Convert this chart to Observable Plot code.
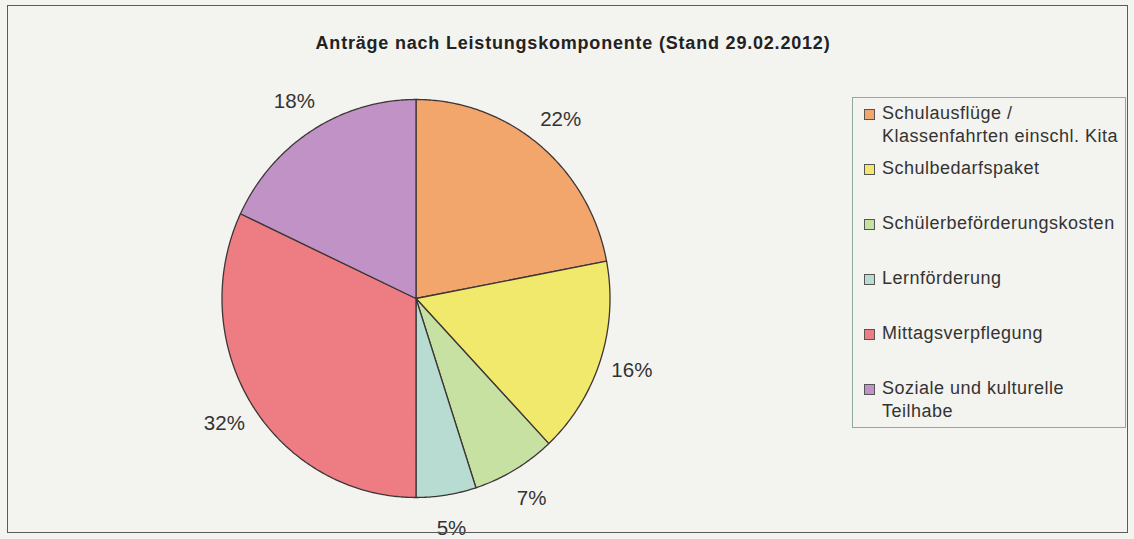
<!DOCTYPE html>
<html>
<head>
<meta charset="utf-8">
<script src="https://cdn.jsdelivr.net/npm/d3@7"></script>
<script src="https://cdn.jsdelivr.net/npm/@observablehq/plot@0.6"></script>
<style>
  body { margin: 0; background: #f3f3f0; font-family: "Liberation Sans", Arial, sans-serif; }
  #wrap { position: relative; width: 1134px; height: 539px; overflow: hidden; background: #f3f3f0; }
  #wrap svg { position: absolute; left: 0; top: 0; }
  #frame { position: absolute; left: 7px; top: 5px; width: 1121px; height: 528px; border: 1.5px solid #5a5a5a; box-sizing: border-box; }
  #title { position: absolute; left: 0; width: 1146px; top: 33px; text-align: center; font-weight: bold; font-size: 18px; letter-spacing: 0.8px; color: #222; }
  #legend { position: absolute; left: 852px; top: 97px; width: 274px; height: 331px; border: 1.5px solid #8fa9a2; box-sizing: border-box; }
  .item { position: absolute; left: 11px; font-size: 18px; line-height: 23px; color: #333; }
  .sw { position: absolute; left: 0; top: 7px; width: 9px; height: 9px; border: 1px solid #555; }
  .txt { position: absolute; left: 18px; top: 0; white-space: pre; letter-spacing: 0.5px; }
</style>
</head>
<body>
<div id="wrap">
  <div id="frame"></div>
  <div id="title"></div>
  <div id="legend"></div>
</div>
<script>
const title = "Anträge nach Leistungskomponente (Stand 29.02.2012)";
const categories = [
  "Schulausflüge / Klassenfahrten einschl. Kita",
  "Schulbedarfspaket",
  "Schülerbeförderungskosten",
  "Lernförderung",
  "Mittagsverpflegung",
  "Soziale und kulturelle Teilhabe"
];
const legendLabels = [
  "Schulausflüge /\nKlassenfahrten einschl. Kita",
  "Schulbedarfspaket",
  "Schülerbeförderungskosten",
  "Lernförderung",
  "Mittagsverpflegung",
  "Soziale und kulturelle\nTeilhabe"
];
const values = [22, 16, 7, 5, 32, 18];
const colors = ["#f2a66c", "#f1e96b", "#c7e1a3", "#b8dcd1", "#ee7d83", "#c192c6"];

document.getElementById("title").textContent = title;

// pie geometry from the data (clockwise from 12 o'clock)
const arcs = d3.pie().sort(null).value(d => d)(values);
const slices = arcs.map((p, i) => {
  const n = Math.max(4, Math.ceil((p.endAngle - p.startAngle) / 0.01));
  const pts = [{x: 0, y: 0}];
  for (let k = 0; k <= n; k++) {
    const a = p.startAngle + (p.endAngle - p.startAngle) * k / n;
    pts.push({x: Math.sin(a), y: Math.cos(a)});
  }
  pts.push({x: 0, y: 0});
  return pts;
});
const labels = arcs.map((p, i) => {
  const m = (p.startAngle + p.endAngle) / 2;
  return {x: 1.17 * Math.sin(m), y: 1.17 * Math.cos(m), label: values[i] + "%"};
});

// pixel layout: centre (415.5, 298), radii 194 x 199
const W = 1134, H = 539, cx = 415.5, cy = 298, rx = 194, ry = 199;

const chart = Plot.plot({
  width: W,
  height: H,
  margin: 0,
  style: {background: "transparent", fontFamily: "'Liberation Sans', Arial, sans-serif"},
  x: {domain: [-cx / rx, (W - cx) / rx], axis: null},
  y: {domain: [-(H - cy) / ry, cy / ry], axis: null},
  marks: [
    ...slices.map((pts, i) => Plot.line(pts, {x: "x", y: "y", fill: colors[i], stroke: "#3e3636", strokeWidth: 1.3})),
    Plot.text(labels, {x: "x", y: "y", text: "label", fontSize: 20.5, fill: "#333"})
  ]
});
document.getElementById("wrap").insertBefore(chart, document.getElementById("frame"));

// legend
const legend = document.getElementById("legend");
legendLabels.forEach((lab, i) => {
  const it = document.createElement("div");
  it.className = "item";
  it.style.top = (4 + i * 55) + "px";
  const sw = document.createElement("div");
  sw.className = "sw";
  sw.style.background = colors[i];
  const tx = document.createElement("div");
  tx.className = "txt";
  tx.textContent = lab;
  it.appendChild(sw); it.appendChild(tx);
  legend.appendChild(it);
});
</script>
</body>
</html>
